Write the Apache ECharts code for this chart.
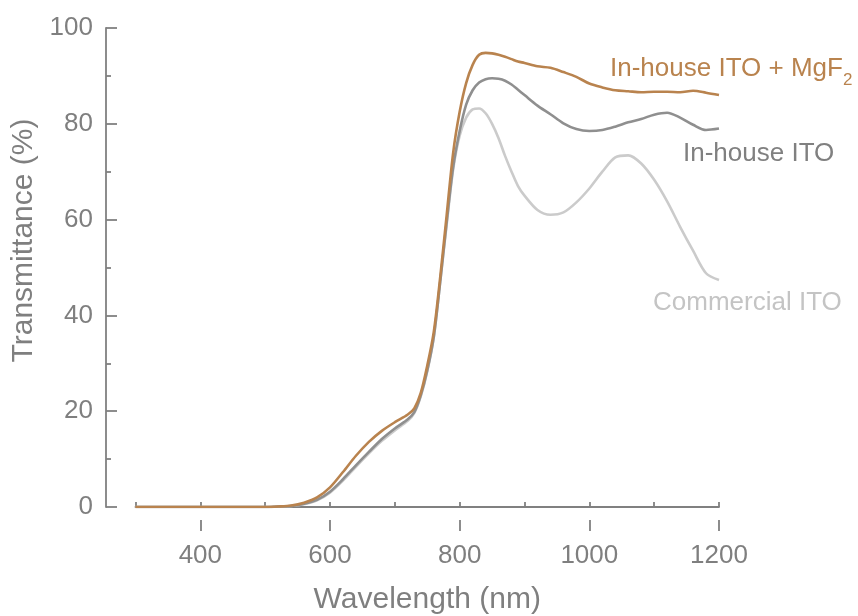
<!DOCTYPE html>
<html>
<head>
<meta charset="utf-8">
<script src="https://cdn.jsdelivr.net/npm/echarts@6/dist/echarts.min.js"></script>
<style>html,body{margin:0;padding:0;background:#fff}#c{width:858px;height:616px}</style>
</head>
<body>
<div id="c"></div>
<script>
const wavelengths = [300,350,400,450,500,520,540,560,580,600,620,640,660,680,700,720,730,740,750,760,770,780,790,800,810,820,830,840,850,860,870,880,890,900,920,940,960,980,1000,1020,1040,1060,1080,1100,1120,1140,1160,1180,1200];
const inhouseMgF2 = [0,0,0,0,0,0.1,0.3,0.9,2,4.1,7.3,10.7,13.6,15.9,17.7,19.3,20.6,23.8,29.5,36.5,48,61,74,82.5,88.5,92.3,94.4,94.8,94.7,94.4,94,93.5,93,92.7,92,91.7,90.8,89.8,88.4,87.6,87,86.8,86.6,86.7,86.7,86.6,86.9,86.5,86.0];
const inhouseITO = [0,0,0,0,0,0.1,0.2,0.7,1.5,3.2,5.8,8.7,11.5,14.2,16.4,18.3,19.8,23.3,28.5,35.5,47,59.5,71,78.5,84,87,88.6,89.3,89.5,89.4,89,88.2,87.1,86,83.8,82,80.1,78.9,78.5,78.7,79.4,80.3,81,81.9,82.3,81.3,79.8,78.7,79];
const commercialITO = [0,0,0,0,0,0.1,0.2,0.6,1.4,3,5.5,8.4,11.2,13.8,16,18,19.6,23.1,28.3,35.3,47,59,70.5,77.5,81.3,83,83.2,82.2,80,77,73.3,70,67,65,62,61,61.5,63.6,66.5,70,73,73.4,71.7,68.3,63.8,58.5,53.5,48.8,47.4];
const xTicks = ['300','400','500','600','700','800','900','1000','1100','1200'];
const seriesNames = ['Commercial ITO','In-house ITO','In-house ITO + MgF2'];

const pair = (ys) => wavelengths.map((w, i) => [w, ys[i]]);
const axisColor = '#808080';
const textColor = '#7f7f7f';
const font = 'Liberation Sans, Arial, Helvetica, sans-serif';

const chart = echarts.init(document.getElementById('c'), null, {renderer: 'canvas'});
chart.setOption({
  animation: false,
  grid: {left: 135.5, right: 139, top: 28, bottom: 109, containLabel: false, outerBoundsMode: 'none'},
  xAxis: [
    {
      type: 'value', min: 300, max: 1200, interval: 100, offset: 24,
      axisLine: {lineStyle: {color: axisColor, width: 1.8}},
      axisTick: {inside: true, length: 5, lineStyle: {color: axisColor, width: 1.8}},
      axisLabel: {show: false},
      splitLine: {show: false},
      name: 'Wavelength (nm)', nameLocation: 'middle', nameGap: 54,
      nameTextStyle: {fontSize: 30, color: textColor, fontFamily: font}
    },
    {
      type: 'category', data: xTicks, boundaryGap: false, position: 'bottom', offset: 24,
      axisLine: {show: false},
      axisTick: {inside: true, length: 11, interval: (i) => i % 2 === 1, lineStyle: {color: axisColor, width: 1.8}},
      axisLabel: {interval: (i) => i % 2 === 1, fontSize: 26, color: textColor, fontFamily: font, margin: 12},
      splitLine: {show: false}
    }
  ],
  yAxis: {
    type: 'value', min: 0, max: 100, interval: 20, offset: 29.5,
    axisLine: {show: true, lineStyle: {color: axisColor, width: 1.8}},
    axisTick: {show: true, inside: true, length: 11, lineStyle: {color: axisColor, width: 1.8}},
    minorTick: {show: true, splitNumber: 2, length: 5, lineStyle: {color: axisColor, width: 1.8}},
    axisLabel: {fontSize: 26, color: textColor, fontFamily: font, margin: 13},
    splitLine: {show: false},
    name: 'Transmittance (%)', nameLocation: 'middle', nameGap: 51, nameRotate: 90,
    nameTextStyle: {fontSize: 30, color: textColor, fontFamily: font, padding: [0, 0, 0, 54]}
  },
  series: [
    {name: seriesNames[0], type: 'line', data: pair(commercialITO), smooth: 0.3, showSymbol: false,
     lineStyle: {color: '#cbcbcb', width: 2.6}, xAxisIndex: 0},
    {name: seriesNames[1], type: 'line', data: pair(inhouseITO), smooth: 0.3, showSymbol: false,
     lineStyle: {color: '#8f8f8f', width: 2.6}, xAxisIndex: 0},
    {name: seriesNames[2], type: 'line', data: pair(inhouseMgF2), smooth: 0.3, showSymbol: false,
     lineStyle: {color: '#b9834e', width: 2.6}, xAxisIndex: 0}
  ],
  graphic: [
    {type: 'text', left: 610, top: 56, silent: true,
     style: {text: 'In-house ITO + MgF{sub|2}', fontSize: 26, fontFamily: font, fill: '#b9834e',
       rich: {sub: {fontSize: 17, fontFamily: font, fill: '#b9834e', verticalAlign: 'bottom', lineHeight: 40}}}},
    {type: 'text', left: 683, top: 141, silent: true,
     style: {text: 'In-house ITO', fontSize: 26, fontFamily: font, fill: '#808080'}},
    {type: 'text', left: 653, top: 290, silent: true,
     style: {text: 'Commercial ITO', fontSize: 26, fontFamily: font, fill: '#c4c4c4'}}
  ]
});
</script>
</body>
</html>
